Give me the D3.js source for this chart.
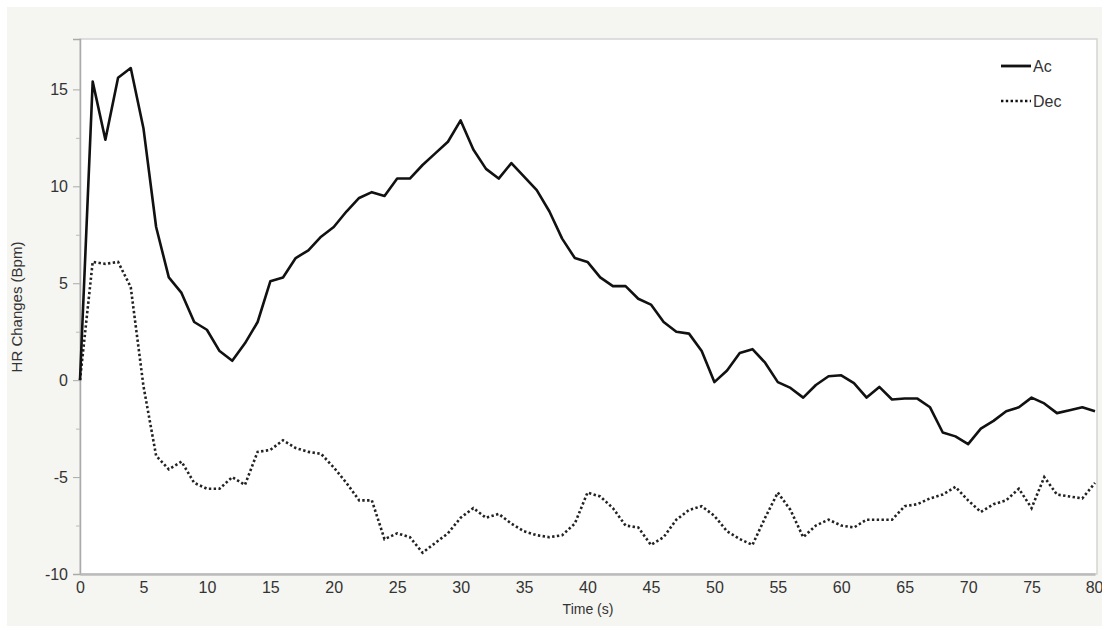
<!DOCTYPE html>
<html>
<head>
<meta charset="utf-8">
<script src="https://cdn.jsdelivr.net/npm/d3@7"></script>
<style>
  body { margin: 0; background: #fff; }
  svg text { font-family: "Liberation Sans", Arial, sans-serif; fill: #333; }
</style>
</head>
<body>
<svg id="chart" width="1102" height="626"></svg>
<script>
// seconds 0..80
var times = d3.range(0, 81);
var acValues = [
  0, 15.4, 12.4, 15.6, 16.1, 13.0, 7.9, 5.3, 4.5, 3.0,
  2.6, 1.5, 1.0, 1.9, 3.0, 5.1, 5.3, 6.3, 6.7, 7.4,
  7.9, 8.7, 9.4, 9.7, 9.5, 10.4, 10.4, 11.1, 11.7, 12.3,
  13.4, 11.9, 10.9, 10.4, 11.2, 10.5, 9.8, 8.7, 7.3, 6.3,
  6.1, 5.3, 4.85, 4.85, 4.2, 3.9, 3.0, 2.5, 2.4, 1.5,
  -0.1, 0.5, 1.4, 1.6, 0.9, -0.1, -0.4, -0.9, -0.25, 0.2,
  0.25, -0.15, -0.9, -0.35, -1.0, -0.95, -0.95, -1.4, -2.7, -2.9,
  -3.3, -2.5, -2.1, -1.6, -1.4, -0.9, -1.2, -1.7, -1.55, -1.4,
  -1.6
];
var decValues = [
  0, 6.1, 6.0, 6.1, 4.8, -0.3, -3.9, -4.6, -4.2, -5.3,
  -5.6, -5.6, -5.0, -5.4, -3.7, -3.6, -3.1, -3.5, -3.7, -3.8,
  -4.5, -5.3, -6.2, -6.2, -8.2, -7.9, -8.1, -8.9, -8.4, -7.9,
  -7.1, -6.6, -7.1, -6.9, -7.4, -7.8, -8.0, -8.1, -8.0, -7.4,
  -5.8, -6.0, -6.6, -7.5, -7.6, -8.5, -8.1, -7.2, -6.7, -6.5,
  -7.0, -7.8, -8.2, -8.5, -7.1, -5.8, -6.7, -8.1, -7.5, -7.2,
  -7.5, -7.6, -7.2, -7.2, -7.2, -6.5, -6.4, -6.1, -5.9, -5.5,
  -6.2, -6.8, -6.4, -6.2, -5.6, -6.6, -5.0, -5.9, -6.0, -6.1,
  -5.3
];
var xTicks = [0, 5, 10, 15, 20, 25, 30, 35, 40, 45, 50, 55, 60, 65, 70, 75, 80];
var yTicks = [-10, -5, 0, 5, 10, 15];
var yMinorTicks = [-7.5, -2.5, 2.5, 7.5, 12.5];
var seriesNames = ["Ac", "Dec"];

var svg = d3.select("#chart");
var plotLeft = 80, plotRight = 1097, plotTop = 39, plotBottom = 574;
var plainFmt = function(d) { return String(d); };

// outer panel
svg.append("rect").attr("x", 7).attr("y", 7).attr("width", 1095).attr("height", 619)
  .attr("fill", "#f5f5f1");

var x = d3.scaleLinear().domain([0, 80]).range([plotLeft, 1095]);
var y = d3.scaleLinear().domain([-10, 17.6]).range([plotBottom, plotTop]);

// plot area
svg.append("rect").attr("x", plotLeft).attr("y", plotTop)
  .attr("width", plotRight - plotLeft).attr("height", plotBottom - plotTop)
  .attr("fill", "#fff").attr("stroke", "#d4d4d4").attr("stroke-width", 1.5);

// y axis
var yAxis = svg.append("g").attr("transform", "translate(" + plotLeft + ",0)")
  .call(d3.axisLeft(y).tickValues(yTicks).tickFormat(plainFmt).tickSize(7).tickPadding(5));
yAxis.select(".domain").attr("stroke", "#aaa").attr("stroke-width", 1.5);
yAxis.selectAll(".tick line").attr("stroke", "#aaa");
yAxis.selectAll(".tick text").attr("font-size", 16).attr("fill", "#333")
  .attr("font-family", "Liberation Sans, Arial, sans-serif");

svg.append("g").attr("transform", "translate(" + plotLeft + ",0)")
  .call(d3.axisLeft(y).tickValues(yMinorTicks).tickSize(4).tickFormat(""))
  .call(function(g) {
    g.select(".domain").remove();
    g.selectAll(".tick line").attr("stroke", "#bbb");
  });

// x axis
var xAxis = svg.append("g").attr("transform", "translate(0," + plotBottom + ")")
  .call(d3.axisBottom(x).tickValues(xTicks).tickFormat(plainFmt).tickSize(0).tickPadding(8));
xAxis.select(".domain").attr("stroke", "#bbb").attr("stroke-width", 2.5);
xAxis.selectAll(".tick text").attr("font-size", 16).attr("fill", "#333")
  .attr("font-family", "Liberation Sans, Arial, sans-serif");
xAxis.selectAll(".tick text").filter(function(d) { return d === 80; })
  .attr("text-anchor", "end").attr("x", 8);

// axis titles
svg.append("text").attr("x", 588).attr("y", 614).attr("text-anchor", "middle")
  .attr("font-size", 14).text("Time (s)");
svg.append("text").attr("transform", "translate(22,307) rotate(-90)")
  .attr("text-anchor", "middle").attr("font-size", 15).text("HR Changes (Bpm)");

// lines
var line = d3.line()
  .x(function(d) { return x(d[0]); })
  .y(function(d) { return y(d[1]); });

svg.append("path")
  .datum(times.map(function(t, i) { return [t, decValues[i]]; }))
  .attr("fill", "none").attr("stroke", "#222").attr("stroke-width", 2.6)
  .attr("stroke-dasharray", "2.4,2.4")
  .attr("d", line);

svg.append("path")
  .datum(times.map(function(t, i) { return [t, acValues[i]]; }))
  .attr("fill", "none").attr("stroke", "#111").attr("stroke-width", 2.6)
  .attr("stroke-linejoin", "round")
  .attr("d", line);

// legend
var legend = svg.append("g");
seriesNames.forEach(function(name, i) {
  var ly = 66 + i * 35;
  legend.append("line").attr("x1", 1001).attr("x2", 1031).attr("y1", ly).attr("y2", ly)
    .attr("stroke", "#111").attr("stroke-width", i === 0 ? 2.8 : 2.6)
    .attr("stroke-dasharray", i === 0 ? null : "2.4,2.4");
  legend.append("text").attr("x", 1033).attr("y", ly + 6)
    .attr("font-size", 16).attr("fill", "#222").text(name);
});
</script>
</body>
</html>
